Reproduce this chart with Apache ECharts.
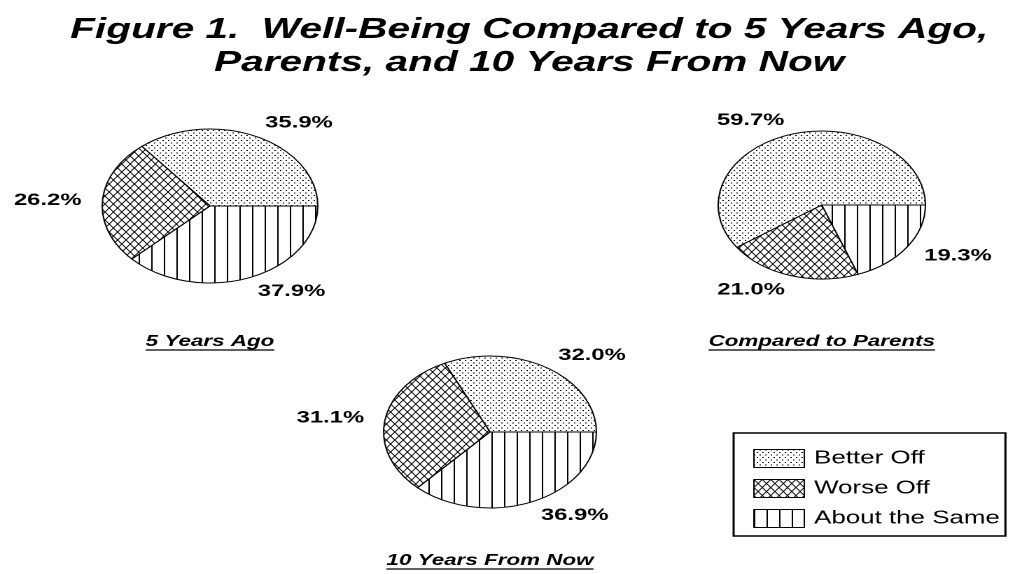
<!DOCTYPE html>
<html>
<head>
<meta charset="utf-8">
<script src="https://cdn.jsdelivr.net/npm/echarts@6.0.0/dist/echarts.min.js"></script>
<style>
  html, body { margin: 0; padding: 0; background: #fff; overflow: hidden; }
  /* the scan is stretched sideways, so draw narrow and stretch the whole chart */
  #main { width: 724px; height: 574px; transform: scaleX(1.4); transform-origin: 0 0; }
</style>
</head>
<body>
<div id="main"></div>
<script>
const categories = ['Better Off', 'Worse Off', 'About the Same'];
const fiveYearsAgo = [35.9, 26.2, 37.9];
const comparedToParents = [59.7, 21.0, 19.3];
const tenYearsFromNow = [32.0, 31.1, 36.9];
const pieNames = ['5 Years Ago', 'Compared to Parents', '10 Years From Now'];
const titleLines = ['Figure 1.  Well-Being Compared to 5 Years Ago,', 'Parents, and 10 Years From Now'];

const FONT = '"Liberation Sans", Arial, sans-serif';

// hatch fills, drawn at 2x and scaled back down
function tile(w, h, draw) {
    const c = document.createElement('canvas');
    c.width = w * 2;
    c.height = h * 2;
    const ctx = c.getContext('2d');
    ctx.fillStyle = '#fff';
    ctx.fillRect(0, 0, c.width, c.height);
    ctx.fillStyle = '#000';
    ctx.strokeStyle = '#000';
    draw(ctx, c.width, c.height);
    return { image: c, repeat: 'repeat', scaleX: 0.5, scaleY: 0.5 };
}

const patterns = [
    // dots
    tile(4, 5, function (ctx) {
        ctx.fillRect(0, 0, 2, 2);
        ctx.fillRect(4, 5, 2, 2);
    }),
    // cross hatch
    tile(6, 8, function (ctx, w, h) {
        ctx.lineWidth = 1.6;
        ctx.beginPath();
        for (let k = -1; k <= 1; k++) {
            ctx.moveTo(k * w, 0); ctx.lineTo(k * w + w, h);
            ctx.moveTo(k * w + w, 0); ctx.lineTo(k * w, h);
        }
        ctx.stroke();
    }),
    // vertical lines
    tile(9, 2, function (ctx, w, h) {
        ctx.fillRect(0, 0, 2, h);
    })
];

const pies = [
    { name: pieNames[0], values: fiveYearsAgo, center: [150, 206], r: 77, base: 347 },
    { name: pieNames[1], values: comparedToParents, center: [587, 205], r: 74, base: 347 },
    { name: pieNames[2], values: tenYearsFromNow, center: [350, 432], r: 76, base: 566 }
];

const measure = document.createElement('canvas').getContext('2d');
function textWidth(t, font) {
    measure.font = font;
    return measure.measureText(t).width;
}

const graphic = [];
titleLines.forEach(function (t, i) {
    graphic.push({
        type: 'text', x: 378, y: [30, 63][i], silent: true,
        style: {
            text: t, fill: '#000', fontFamily: FONT, fontSize: 29, fontWeight: 'bold', fontStyle: 'italic',
            textAlign: 'center', textVerticalAlign: 'middle', align: 'center', verticalAlign: 'middle'
        }
    });
});
pies.forEach(function (p) {
    const w = textWidth(p.name, 'italic bold 16px "Liberation Sans", Arial');
    const cx = p.center[0];
    graphic.push({
        type: 'text', x: cx, y: p.base - 5.6, silent: true,
        style: {
            text: p.name, fill: '#000', fontFamily: FONT, fontSize: 16, fontWeight: 'bold', fontStyle: 'italic',
            textAlign: 'center', textVerticalAlign: 'middle', align: 'center', verticalAlign: 'middle'
        }
    });
    graphic.push({
        type: 'line', silent: true,
        shape: { x1: cx - w / 2, y1: p.base + 3, x2: cx + w / 2, y2: p.base + 3 },
        style: { stroke: '#000', lineWidth: 1.2 }
    });
});

const chart = echarts.init(document.getElementById('main'), null, { renderer: 'canvas', devicePixelRatio: 2 });

chart.setOption({
    backgroundColor: '#fff',
    animation: false,
    legend: {
        orient: 'vertical',
        left: 524,
        top: 433,
        itemWidth: 36,
        itemHeight: 18,
        itemGap: 11,
        padding: [16, 4, 8, 14],
        borderColor: '#000',
        borderWidth: 1.5,
        selectedMode: false,
        textStyle: { fontFamily: FONT, fontSize: 18.5, color: '#000', padding: [0, 0, 0, 2] },
        data: categories.map(function (c, i) {
            return { name: c, icon: 'rect', itemStyle: { color: patterns[i], borderColor: '#000', borderWidth: 1 } };
        })
    },
    graphic: graphic,
    series: pies.map(function (p) {
        return {
            type: 'pie',
            name: p.name,
            center: p.center,
            radius: p.r,
            startAngle: 0,
            clockwise: false,
            avoidLabelOverlap: false,
            silent: true,
            itemStyle: { borderColor: '#000', borderWidth: 1 },
            label: {
                position: 'outside',
                distanceToLabelLine: 0,
                formatter: function (d) { return d.value.toFixed(1) + '%'; },
                fontFamily: FONT,
                fontSize: 17,
                fontWeight: 'bold',
                color: '#000'
            },
            labelLine: { show: false, length: 15, length2: 0 },
            data: categories.map(function (c, i) {
                return { name: c, value: p.values[i], itemStyle: { color: patterns[i] } };
            })
        };
    })
});
</script>
</body>
</html>
